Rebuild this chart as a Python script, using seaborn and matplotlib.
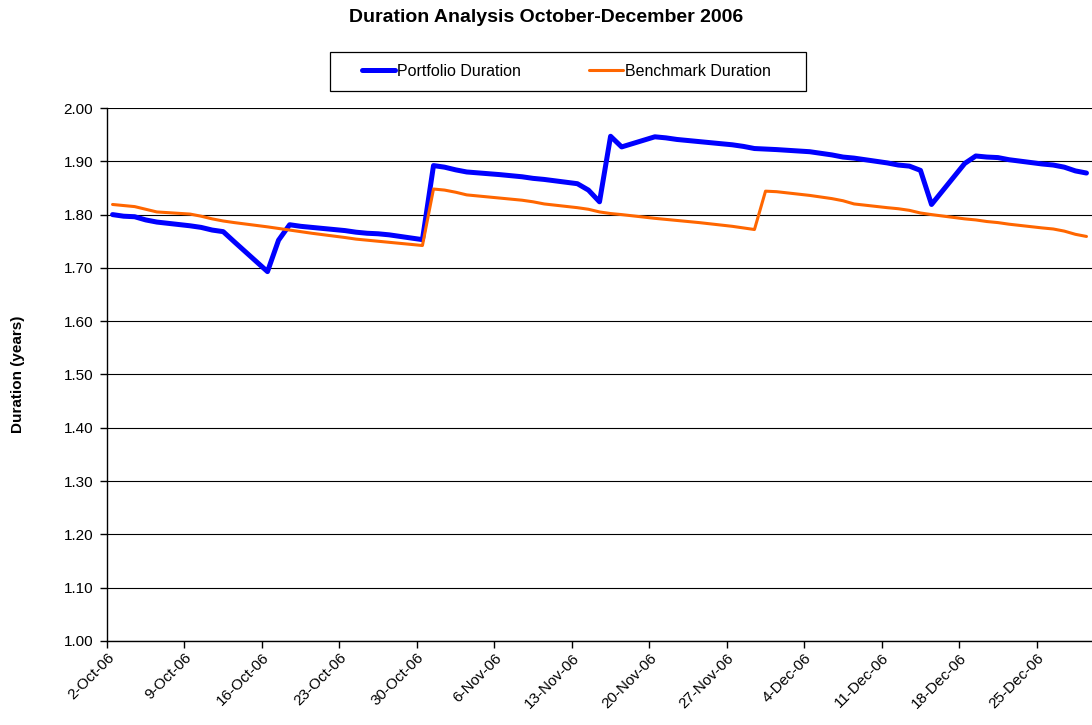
import matplotlib
matplotlib.use("Agg")
import matplotlib.pyplot as plt
import seaborn as sns
import pandas as pd
import numpy as np
from matplotlib.lines import Line2D
from matplotlib.patches import Rectangle

dates = [
    "2006-10-02", "2006-10-03", "2006-10-04", "2006-10-05", "2006-10-06",
    "2006-10-09", "2006-10-10", "2006-10-11", "2006-10-12", "2006-10-13",
    "2006-10-16", "2006-10-17", "2006-10-18", "2006-10-19", "2006-10-20",
    "2006-10-23", "2006-10-24", "2006-10-25", "2006-10-26", "2006-10-27",
    "2006-10-30", "2006-10-31",
    "2006-11-01", "2006-11-02", "2006-11-03",
    "2006-11-06", "2006-11-07", "2006-11-08", "2006-11-09", "2006-11-10",
    "2006-11-13", "2006-11-14", "2006-11-15", "2006-11-16", "2006-11-17",
    "2006-11-20", "2006-11-21", "2006-11-22", "2006-11-23", "2006-11-24",
    "2006-11-27", "2006-11-28", "2006-11-29", "2006-11-30",
    "2006-12-01",
    "2006-12-04", "2006-12-05", "2006-12-06", "2006-12-07", "2006-12-08",
    "2006-12-11", "2006-12-12", "2006-12-13", "2006-12-14", "2006-12-15",
    "2006-12-18", "2006-12-19", "2006-12-20", "2006-12-21", "2006-12-22",
    "2006-12-25", "2006-12-26", "2006-12-27", "2006-12-28", "2006-12-29",
]

portfolio = [
    1.800, 1.797, 1.796, 1.790, 1.786,
    1.779, 1.776, 1.771, 1.768, 1.749,
    1.693, 1.752, 1.781, 1.778, 1.776,
    1.770, 1.767, 1.765, 1.764, 1.762,
    1.753, 1.892,
    1.889, 1.884, 1.880,
    1.875, 1.873, 1.871, 1.868, 1.866,
    1.858, 1.846, 1.824, 1.947, 1.927,
    1.946, 1.944, 1.941, 1.939, 1.937,
    1.931, 1.928, 1.924, 1.923,
    1.922,
    1.918, 1.915, 1.912, 1.908, 1.906,
    1.897, 1.893, 1.891, 1.883, 1.819,
    1.896, 1.910, 1.908, 1.907, 1.903,
    1.895, 1.893, 1.889, 1.882, 1.878,
]

benchmark = [
    1.819, 1.817, 1.815, 1.810, 1.805,
    1.801, 1.797, 1.792, 1.788, 1.785,
    1.777, 1.774, 1.771, 1.768, 1.765,
    1.757, 1.754, 1.752, 1.750, 1.748,
    1.742, 1.848,
    1.846, 1.842, 1.837,
    1.831, 1.829, 1.827, 1.824, 1.820,
    1.813, 1.810, 1.805, 1.802, 1.800,
    1.793, 1.791, 1.789, 1.787, 1.785,
    1.778, 1.775, 1.772, 1.844,
    1.843,
    1.836, 1.833, 1.830, 1.826, 1.820,
    1.813, 1.811, 1.808, 1.803, 1.800,
    1.792, 1.790, 1.787, 1.785, 1.782,
    1.775, 1.773, 1.769, 1.763, 1.759,
]

series_names = ["Portfolio Duration", "Benchmark Duration"]
tick_dates = ["2006-10-02", "2006-10-09", "2006-10-16", "2006-10-23", "2006-10-30",
              "2006-11-06", "2006-11-13", "2006-11-20", "2006-11-27", "2006-12-04",
              "2006-12-11", "2006-12-18", "2006-12-25"]

sns.set_theme(style="white")
plt.rcParams['font.family'] = ['Liberation Sans', 'DejaVu Sans']
plt.rcParams['text.color'] = 'black'
plt.rcParams['axes.labelcolor'] = 'black'
plt.rcParams['xtick.color'] = 'black'
plt.rcParams['ytick.color'] = 'black'

d = pd.to_datetime(dates) + pd.Timedelta(hours=12)  # Excel places points mid-day
df = pd.concat([
    pd.DataFrame({"Date": d, "Duration": portfolio, "Series": series_names[0]}),
    pd.DataFrame({"Date": d, "Duration": benchmark, "Series": series_names[1]}),
])

fig = plt.figure(figsize=(10.92, 7.25), dpi=100)
ax = fig.add_axes([0.098, 0.116, 0.902, 0.735])

colors = {series_names[0]: "#0000FF", series_names[1]: "#FF6600"}
widths = {series_names[0]: 3.6, series_names[1]: 2.2}
sns.lineplot(data=df, x="Date", y="Duration", hue="Series", palette=colors,
             size="Series", sizes=widths, ax=ax, legend=False)

ax.set_ylim(1.0, 2.0)
ax.set_yticks(np.arange(1.0, 2.001, 0.1))
ax.yaxis.set_major_formatter(matplotlib.ticker.FormatStrFormatter("%.2f"))
ax.set_xlim(pd.Timestamp("2006-10-02"), pd.Timestamp("2006-12-30"))
ticks = pd.to_datetime(tick_dates)
ax.set_xticks(ticks)
ax.set_xticklabels([f"{t.day}-{t.strftime('%b')}-{t.strftime('%y')}" for t in ticks],
                   rotation=45, ha="right", rotation_mode="anchor", fontsize=11)
for lbl in ax.get_yticklabels():
    lbl.set_fontsize(11)

ax.grid(axis="y", color="black", linewidth=0.8)
ax.set_axisbelow(True)
for s in ["top", "right"]:
    ax.spines[s].set_visible(False)
for s in ["left", "bottom"]:
    ax.spines[s].set_color("black")
    ax.spines[s].set_linewidth(1.0)
ax.tick_params(axis="y", which="major", direction="out", length=5, width=1,
               color="black", left=True, pad=5)
ax.tick_params(axis="x", which="major", direction="out", length=5, width=1,
               color="black", bottom=True, pad=2)

ax.set_xlabel("")
ax.set_ylabel("Duration (years)", fontsize=11, fontweight="bold", labelpad=28)

fig.suptitle("Duration Analysis October-December 2006", x=0.5, y=0.988,
             fontsize=14, fontweight="bold")

handles = [Line2D([], [], color=colors[n], lw=widths[n]) for n in series_names]
leg = fig.legend(handles, series_names, loc="center left",
                 bbox_to_anchor=(361.5 / 1092, 1 - 71.5 / 725),
                 ncol=2, frameon=False, fontsize=11.5,
                 handlelength=2.1, handletextpad=0.15, columnspacing=4.25,
                 borderpad=0, borderaxespad=0)
fig.patches.append(Rectangle((330 / 1092, 1 - 91 / 725), 476 / 1092, 39 / 725,
                             transform=fig.transFigure, fill=False,
                             edgecolor="black", linewidth=0.9))

fig.savefig("out.png", dpi=100)
